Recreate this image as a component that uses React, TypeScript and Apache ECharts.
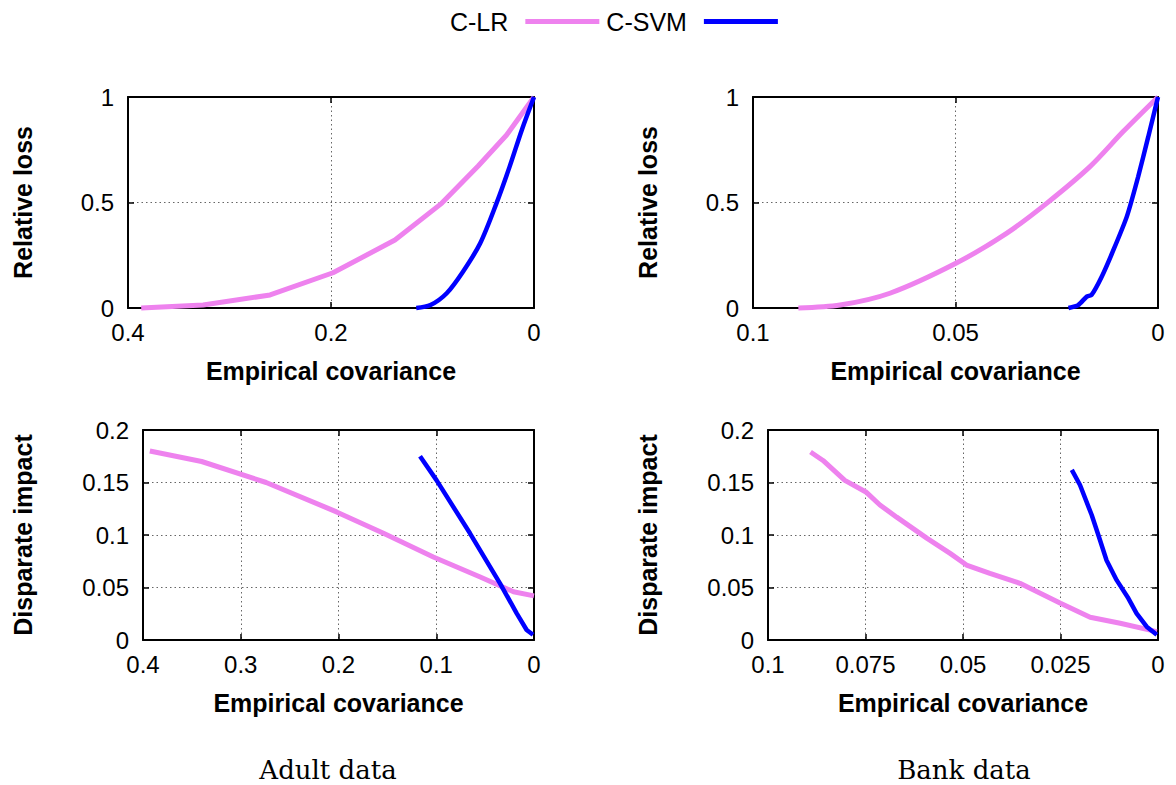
import React, { useEffect, useRef } from "react";
import * as echarts from "echarts";

// ---- data: [empirical covariance, value] ----
const adultLossLR: [number, number][] = [
  [0.387, 0], [0.326, 0.014], [0.26, 0.062], [0.198, 0.167], [0.137, 0.322],
  [0.091, 0.496], [0.055, 0.673], [0.027, 0.82], [0, 1],
];
const adultLossSVM: [number, number][] = [
  [0.116, 0], [0.102, 0.014], [0.086, 0.07], [0.07, 0.172], [0.053, 0.307],
  [0.037, 0.496], [0.024, 0.67], [0.012, 0.844], [0, 1],
];
const bankLossLR: [number, number][] = [
  [0.0888, 0], [0.0785, 0.014], [0.0662, 0.07], [0.0499, 0.212], [0.0374, 0.354],
  [0.0275, 0.496], [0.0168, 0.67], [0.0086, 0.836], [0, 1],
];
const bankLossSVM: [number, number][] = [
  [0.0221, 0], [0.0197, 0.014], [0.0176, 0.054], [0.0164, 0.062], [0.0139, 0.148],
  [0.011, 0.275], [0.0077, 0.433], [0.0049, 0.622], [0.0024, 0.812], [0, 1],
];
const adultDiLR: [number, number][] = [
  [0.393, 0.18], [0.34, 0.17], [0.274, 0.15], [0.202, 0.122], [0.154, 0.1016],
  [0.103, 0.079], [0.055, 0.06], [0.021, 0.046], [0, 0.042],
];
const adultDiSVM: [number, number][] = [
  [0.1166, 0.175], [0.0996, 0.152], [0.0655, 0.1016], [0.0348, 0.054],
  [0.0177, 0.0254], [0.0075, 0.0095], [0.001, 0.005],
];
const bankDiLR: [number, number][] = [
  [0.0891, 0.179], [0.0859, 0.171], [0.0803, 0.152], [0.0749, 0.141], [0.0713, 0.1286],
  [0.067, 0.117], [0.0593, 0.097], [0.0533, 0.0825], [0.0491, 0.0714], [0.0431, 0.0635],
  [0.0354, 0.054], [0.025, 0.035], [0.0174, 0.0216], [0.0097, 0.0159], [0.0003, 0.008],
];
const bankDiSVM: [number, number][] = [
  [0.0221, 0.162], [0.02, 0.1476], [0.017, 0.119], [0.0153, 0.1], [0.0132, 0.076],
  [0.0106, 0.057], [0.0076, 0.0397], [0.0055, 0.0254], [0.0029, 0.0127], [0.0003, 0.005],
];

const seriesNames = ["C-LR", "C-SVM"];
const xAxisName = "Empirical covariance";
const yAxisNames = ["Relative loss", "Relative loss", "Disparate impact", "Disparate impact"];
const captions = ["Adult data", "Bank data"];
const xMax = [0.4, 0.1, 0.4, 0.1];
const xStep = [0.2, 0.05, 0.1, 0.025];
const yMax = [1, 1, 0.2, 0.2];
const yStep = [0.5, 0.5, 0.05, 0.05];

const PINK = "#EE82EE";
const BLUE = "#0000FF";
const SANS = "'Liberation Sans', Arial, Helvetica, sans-serif";

const grids = [
  { left: 128, top: 97, width: 406, height: 211 },
  { left: 753, top: 97, width: 405, height: 211 },
  { left: 143, top: 430, width: 391, height: 210 },
  { left: 768, top: 430, width: 390, height: 210 },
];
const yNameGap = [93, 93, 108, 108];

export default function App() {
  const ref = useRef<HTMLDivElement>(null);
  useEffect(() => {
    if (!ref.current) return;
    const chart = echarts.init(ref.current, null, { renderer: "svg" });
    const axisLine = { show: true, onZero: false, lineStyle: { color: "#000", width: 2 } };
    const tick = { show: true, inside: true, length: 6, lineStyle: { color: "#000", width: 1.5 } };
    const split = { show: true, lineStyle: { color: "#666", width: 1, type: [1.5, 3] as any } };
    const label = { color: "#000", fontSize: 24, fontFamily: SANS };
    const nameStyle = { color: "#000", fontSize: 25, fontWeight: "bold" as const, fontFamily: SANS };

    const xAxes: any[] = [];
    const yAxes: any[] = [];
    for (let i = 0; i < 4; i++) {
      xAxes.push({
        type: "value", gridIndex: i, min: 0, max: xMax[i], interval: xStep[i], inverse: true,
        position: "bottom", axisLine, axisTick: tick, splitLine: split,
        axisLabel: { ...label, margin: 12 },
        name: xAxisName, nameLocation: "middle", nameGap: 50, nameTextStyle: nameStyle,
      });
      yAxes.push({
        type: "value", gridIndex: i, min: 0, max: yMax[i], interval: yStep[i],
        position: "left", axisLine, axisTick: tick, splitLine: split,
        axisLabel: { ...label, margin: 14 },
        name: yAxisNames[i], nameLocation: "middle", nameGap: yNameGap[i], nameTextStyle: nameStyle,
      });
    }
    for (let i = 0; i < 4; i++) {
      xAxes.push({
        type: "value", gridIndex: i, min: 0, max: xMax[i], interval: xStep[i], inverse: true,
        position: "top", axisLine, axisTick: tick, splitLine: { show: false }, axisLabel: { show: false },
      });
      yAxes.push({
        type: "value", gridIndex: i, min: 0, max: yMax[i], interval: yStep[i],
        position: "right", axisLine, axisTick: tick, splitLine: { show: false }, axisLabel: { show: false },
      });
    }

    const dataSets = [
      [adultLossLR, adultLossSVM],
      [bankLossLR, bankLossSVM],
      [adultDiLR, adultDiSVM],
      [bankDiLR, bankDiSVM],
    ];
    const smoothFlags = [
      [false, 0.3],
      [0.3, 0.2],
      [false, false],
      [false, false],
    ];
    const series: any[] = [];
    dataSets.forEach((pair, i) => {
      pair.forEach((data, k) => {
        series.push({
          type: "line", name: seriesNames[k], xAxisIndex: i, yAxisIndex: i, data,
          showSymbol: false, symbol: "none", clip: false, smooth: smoothFlags[i][k],
          lineStyle: { color: k === 0 ? PINK : BLUE, width: k === 0 ? 5 : 4.5 },
          itemStyle: { color: k === 0 ? PINK : BLUE },
          z: 3 + k,
        });
      });
    });

    chart.setOption({
      animation: false,
      backgroundColor: "#fff",
      legend: {
        left: 445, top: 4, align: "right", icon: "rect", itemWidth: 74, itemHeight: 5, itemGap: 7,
        textStyle: { fontSize: 25, color: "#000", fontFamily: SANS, padding: [0, 12, 0, 0] },
        data: seriesNames,
      },
      grid: grids.map((g) => ({ ...g, containLabel: false })),
      xAxis: xAxes,
      yAxis: yAxes,
      series,
      graphic: [
        { type: "text", x: 328, y: 770, style: { text: captions[0], font: "26px 'DejaVu Serif', serif", fill: "#000", textAlign: "center", textVerticalAlign: "middle" } },
        { type: "text", x: 964, y: 770, style: { text: captions[1], font: "26px 'DejaVu Serif', serif", fill: "#000", textAlign: "center", textVerticalAlign: "middle" } },
      ],
    });
    return () => chart.dispose();
  }, []);
  return <div ref={ref} style={{ position: "absolute", left: 0, top: 0, width: 1176, height: 785 }} />;
}
